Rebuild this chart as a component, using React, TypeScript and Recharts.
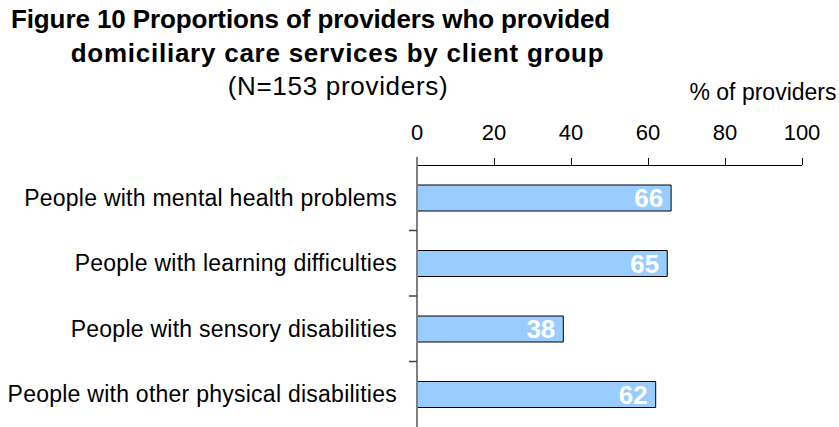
import React from "react";
import { BarChart, Bar, XAxis, YAxis, LabelList } from "recharts";

const categories = [
  "People with mental health problems",
  "People with learning difficulties",
  "People with sensory disabilities",
  "People with other physical disabilities",
];
const values = [66, 65, 38, 62];
const xTicks = [0, 20, 40, 60, 80, 100];

const data = categories.map((name, i) => ({ name, value: values[i] }));
const FONT = "'Liberation Sans', Arial, sans-serif";

// Draws a short tick mark at the upper boundary of each category band
const BoundaryTick = (props: any) => {
  const { x, y, index, height, visibleTicksCount } = props;
  const half = height / (2 * visibleTicksCount);
  const top = y - half;
  if (index === 0) {
    return <line x1={x} x2={x} y1={top - 8} y2={top} stroke="#808080" strokeWidth={2} />;
  }
  return <line x1={x - 8} x2={x} y1={top} y2={top} stroke="#444" strokeWidth={1.5} />;
};

export default function App() {
  return (
    <div style={{ position: "absolute", left: 0, top: 0, width: 839, height: 427, fontFamily: FONT }}>
      <svg width={839} height={110} style={{ position: "absolute", left: 0, top: 0 }}>
        <text x={310.5} y={28} textAnchor="middle" fontSize={26} fontWeight="bold" fill="#000" fontFamily={FONT} letterSpacing={-0.1}>
          Figure 10 Proportions of providers who provided
        </text>
        <text x={337.5} y={62} textAnchor="middle" fontSize={26} fontWeight="bold" fill="#000" fontFamily={FONT} letterSpacing={0.75}>
          domiciliary care services by client group
        </text>
        <text x={338} y={95} textAnchor="middle" fontSize={26} fill="#000" fontFamily={FONT} letterSpacing={0.7}>
          (N=153 providers)
        </text>
        <text x={836.5} y={100} textAnchor="end" fontSize={23} fill="#000" fontFamily={FONT}>
          % of providers
        </text>
      </svg>
      <div style={{ position: "absolute", left: 0, top: 0 }}>
        <BarChart
          width={839}
          height={427}
          data={data}
          layout="vertical"
          margin={{ top: 135, right: 37, bottom: 0, left: 0 }}
        >
          <XAxis
            type="number"
            orientation="top"
            domain={[0, 100]}
            ticks={xTicks}
            height={30}
            tickSize={7}
            tickMargin={18}
            axisLine={{ stroke: "#000", shapeRendering: "crispEdges" }}
            tickLine={{ stroke: "#000", shapeRendering: "crispEdges" }}
            tick={{ fill: "#000", fontSize: 22, fontFamily: FONT }}
            interval={0}
          />
          <YAxis
            yAxisId="a"
            type="category"
            dataKey="name"
            width={8}
            tickSize={0}
            tickMargin={0}
            interval={0}
            tickLine={false}
            tick={<BoundaryTick />}
            axisLine={{ stroke: "#808080", strokeWidth: 2 }}
          />
          <YAxis
            yAxisId="b"
            type="category"
            dataKey="name"
            width={409}
            axisLine={false}
            tickLine={false}
            tickMargin={12}
            tickSize={0}
            interval={0}
            tick={{ fill: "#000", fontSize: 23, fontFamily: FONT, letterSpacing: 0.25 }}
          />
          <Bar
            yAxisId="b"
            dataKey="value"
            fill="#99CCFF"
            stroke="#000"
            strokeWidth={1}
            barSize={26}
            isAnimationActive={false}
          >
            <LabelList
              dataKey="value"
              position="insideRight"
              offset={8}
              fill="#fff"
              fontSize={26}
              fontWeight="bold"
              fontFamily={FONT}
            />
          </Bar>
        </BarChart>
      </div>
    </div>
  );
}
